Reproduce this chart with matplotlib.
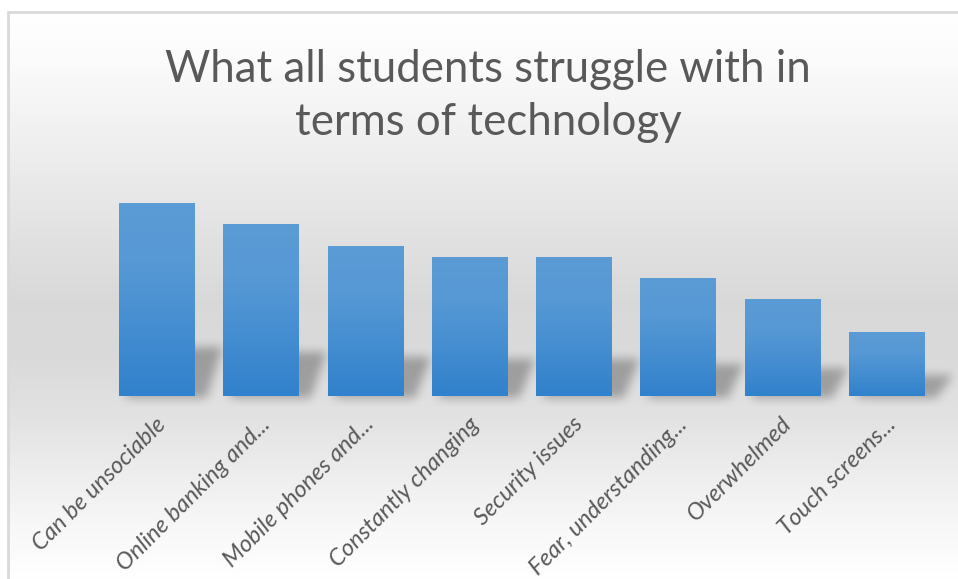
import numpy as np
import matplotlib
matplotlib.use("Agg")
from matplotlib import pyplot as plt
from matplotlib.colors import LinearSegmentedColormap
from matplotlib.transforms import ScaledTranslation
from matplotlib.path import Path

title_lines = ["What all students struggle with in", "terms of technology"]
categories = ["Can be unsociable", "Online banking and...", "Mobile phones and...",
              "Constantly changing", "Security issues", "Fear, understanding...",
              "Overwhelmed", "Touch screens..."]
counts = [18, 16, 14, 13, 13, 11, 9, 6]

W, H = 958, 579
fig = plt.figure(figsize=(W / 100, H / 100), dpi=100)

# chart area background: white at top and bottom, grey band behind the bars
bg = fig.add_axes([0, 0, 1, 1])
bg.set_xlim(0, W)
bg.set_ylim(H, 0)
bg.axis("off")
stops_y = [0, 12, 60, 200, 300, 360, 420, 470, 530, 579]
stops_v = [1.0, 1.0, 0.985, 0.905, 0.85, 0.855, 0.89, 0.93, 0.975, 1.0]
yy = np.arange(H)
shade = np.interp(yy, stops_y, stops_v)
grad = np.repeat(shade[:, None], W, axis=1)
grad[:12, :] = 1.0
grad[:, :8] = 1.0
bg.imshow(np.dstack([grad, grad, grad]), extent=(0, W, H, 0), aspect="auto",
          interpolation="bilinear")
bg.plot([8, 8], [11, H], color="#d9d9d9", lw=2, solid_capstyle="butt")
bg.plot([7, W], [12, 12], color="#d9d9d9", lw=2, solid_capstyle="butt")

# titles drawn line by line for tight spacing
fig.text(488 / W, 1 - 82 / H, title_lines[0], ha="center", va="baseline",
         fontsize=31.5, color="#595959", family="Lato")
fig.text(488 / W, 1 - 135 / H, title_lines[1], ha="center", va="baseline",
         fontsize=31.5, color="#595959", family="Lato")

# plot area
left, right = 104.3, 938.7
base, top = 396, 396 - 20 * 10.73
ax = fig.add_axes([left / W, 1 - base / H, (right - left) / W, (base - top) / H])
ax.patch.set_alpha(0)
ax.set_xlim(-0.5, len(categories) - 0.5)
ax.set_ylim(0, 20)
for s in ax.spines.values():
    s.set_visible(False)
ax.set_yticks([])

x = np.arange(len(categories))
bw = 0.72


def box_blur(a, r, passes=3):
    for _ in range(passes):
        for axis in (0, 1):
            acc = np.zeros_like(a)
            for s in range(-r, r + 1):
                acc += np.roll(a, s, axis=axis)
            a = acc / (2 * r + 1)
    return a


# soft shadows cast up and to the right of each bar, rasterised then blurred
gx, gy = np.meshgrid(np.arange(W) + 0.5, np.arange(H) + 0.5)
pts = np.column_stack([gx.ravel(), (H - gy).ravel()])
mask = np.zeros(H * W)
for xi, v in zip(x, counts):
    sh = 0.22 * v + 0.6
    x0 = xi - bw / 2 + 0.06
    x1 = xi + bw / 2 + 0.12
    skew = 0.15
    corners = [(x0, -0.2), (x1, -0.2), (x1 + skew, sh), (x0 + skew, sh)]
    disp = ax.transData.transform(corners)
    mask = np.maximum(mask, Path(disp).contains_points(pts).astype(float))
mask = box_blur(mask.reshape(H, W), 4)
shadow = np.zeros((H, W, 4))
shadow[..., 3] = 0.28 * mask
bg.imshow(shadow, extent=(0, W, H, 0), aspect="auto", interpolation="bilinear")
bg.set_xlim(0, W)
bg.set_ylim(H, 0)

# gradient-filled bars
cmap = LinearSegmentedColormap.from_list(
    "barfill", [(0, "#3181cc"), (0.45, "#4a91d2"), (0.7, "#5799d5"), (1, "#5b9bd6")])
bars = ax.bar(x, counts, width=bw, color="none", zorder=3)
g = np.linspace(0, 1, 256)[:, None]
for b in bars:
    im = ax.imshow(g, cmap=cmap, origin="lower", aspect="auto", zorder=3,
                   extent=(b.get_x(), b.get_x() + b.get_width(), 0, b.get_height()))
    im.set_clip_path(b)
ax.set_xlim(-0.5, len(categories) - 0.5)
ax.set_ylim(0, 20)

ax.set_xticks(x)
ax.set_xticklabels(categories, rotation=45, ha="right", va="center",
                   rotation_mode="anchor", fontsize=17, color="#595959",
                   family="Lato", style="italic")
ax.tick_params(axis="x", length=0, pad=18)
offset = ScaledTranslation(6 / 100, 0, fig.dpi_scale_trans)
for lab in ax.get_xticklabels():
    lab.set_transform(lab.get_transform() + offset)

fig.savefig("out.png", dpi=100)
